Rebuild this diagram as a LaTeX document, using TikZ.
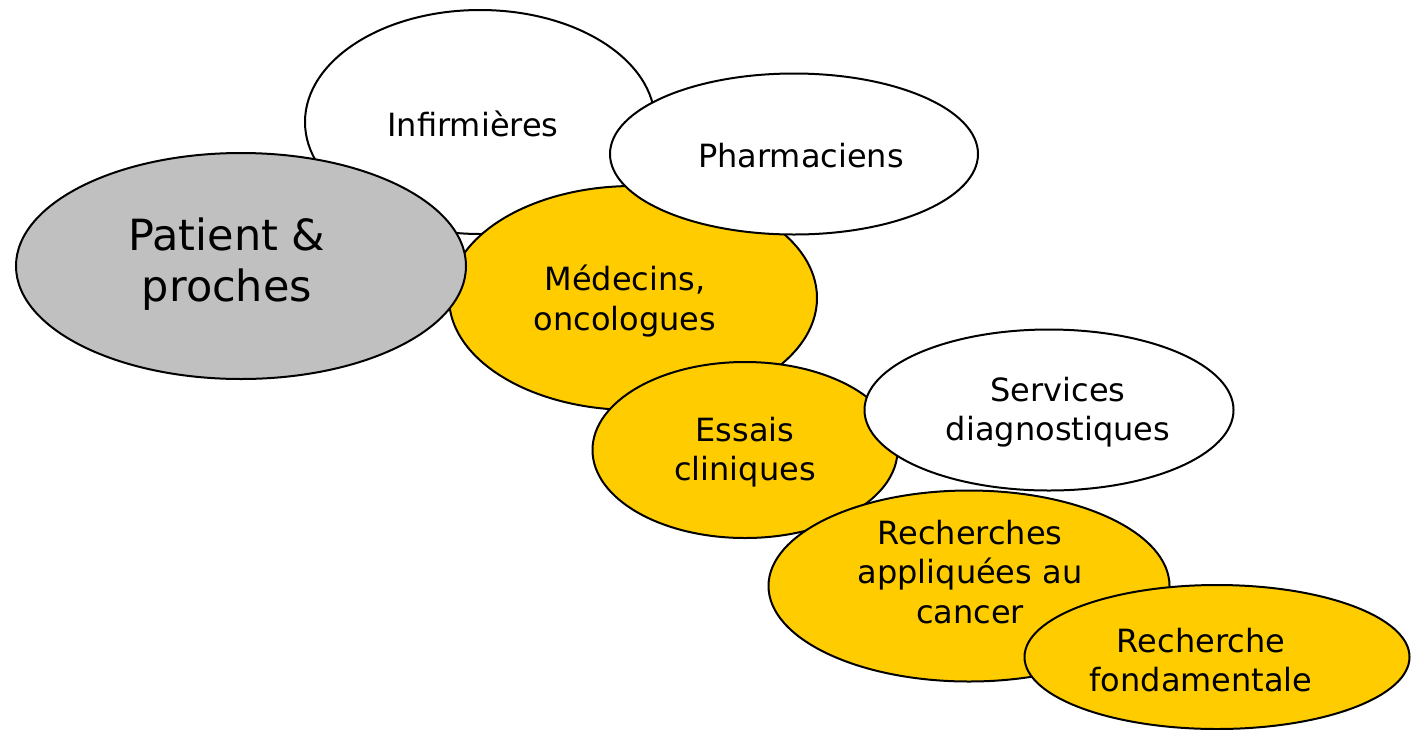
\documentclass[tikz,border=0pt]{standalone}
\usepackage{fontspec}
\setmainfont{DejaVu Sans}
\usetikzlibrary{shapes.geometric}
\definecolor{gold}{HTML}{FFCC00}
\definecolor{greyfill}{HTML}{C0C0C0}
\tikzset{
  bubble/.style={ellipse, draw=black, line width=2pt, inner sep=0pt},
  wbubble/.style={bubble, fill=white},
  ybubble/.style={bubble, fill=gold},
  gbubble/.style={bubble, fill=greyfill},
  lbl/.style={align=center, font=\fontsize{32}{39.5}\selectfont, inner sep=0pt},
  biglbl/.style={align=center, font=\fontsize{43}{51}\selectfont, inner sep=0pt}
}
\begin{document}
\begin{tikzpicture}[x=1pt,y=-1pt]
\useasboundingbox (0,0) rectangle (1413,729);
\node[wbubble, minimum width=350pt, minimum height=224pt] (inf) at (480,122) {};
\node[lbl] (tinf) at (473,124) {Infirmières};
\node[ybubble, minimum width=368pt, minimum height=224pt] (med) at (633,298) {};
\node[gbubble, minimum width=450pt, minimum height=226pt] (pat) at (241,266) {};
\node[biglbl] (tpat) at (227,264) {Patient \&\\proches};
\node[wbubble, minimum width=368pt, minimum height=161pt] (pha) at (794,154) {};
\node[lbl] (tpha) at (801,156) {Pharmaciens};
\node[lbl] (tmed) at (625,301) {Médecins,\\oncologues};
\node[ybubble, minimum width=305pt, minimum height=176pt] (ess) at (745,450) {};
\node[lbl] (tess) at (745,452) {Essais\\cliniques};
\node[wbubble, minimum width=369pt, minimum height=161pt] (ser) at (1049,410) {};
\node[lbl] (tser) at (1058,412) {Services\\diagnostiques};
\node[ybubble, minimum width=401pt, minimum height=191pt] (app) at (969,586) {};
\node[lbl] (tapp) at (970,572) {Recherches\\appliquées au\\cancer};
\node[ybubble, minimum width=385pt, minimum height=144pt] (fon) at (1217,657) {};
\node[lbl] (tfon) at (1201,660) {Recherche\\fondamentale};
\end{tikzpicture}
\end{document}
